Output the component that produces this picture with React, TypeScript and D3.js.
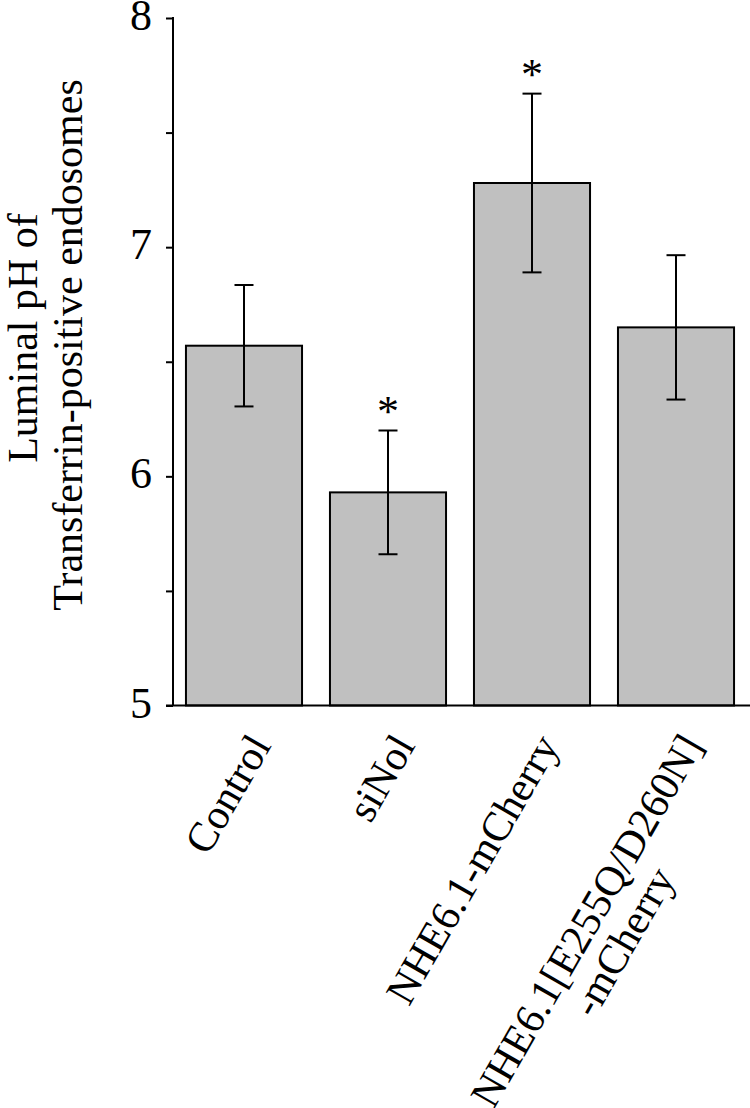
import { useEffect, useRef } from 'react'
import * as d3 from 'd3'

const categories = ['Control', 'siNol', 'NHE6.1-mCherry', 'NHE6.1[E255Q/D260N]\n-mCherry']
const means = [6.57, 5.93, 7.28, 6.65]
const sem = [0.265, 0.27, 0.39, 0.315]
const significant = [false, true, true, false]
const yTicks = [5, 6, 7, 8]
const yMinorTicks = [5.5, 6.5, 7.5]
const yLabelLines = ['Luminal pH of', 'Transferrin-positive endosomes']

const W = 750
const H = 1108
const FONT = '"Liberation Serif", "Times New Roman", Times, serif'

export default function App() {
  const svgRef = useRef<SVGSVGElement>(null)

  useEffect(() => {
    if (!svgRef.current) return
    const svg = d3.select(svgRef.current)
    svg.selectAll('*').remove()

    const axisX = 173
    const yTop = 18
    const yBottom = 705.5

    const y = d3.scaleLinear().domain([5, 8]).range([yBottom, yTop])
    const x = d3
      .scaleBand<string>()
      .domain(categories)
      .range([axisX, 747])
      .paddingInner(0.194)
      .paddingOuter(0.09)

    const data = categories.map((c, i) => ({
      cat: c,
      mean: means[i],
      sem: sem[i],
      sig: significant[i]
    }))

    // bars
    svg.append('g')
      .selectAll('rect')
      .data(data)
      .enter()
      .append('rect')
      .attr('x', d => x(d.cat)!)
      .attr('y', d => y(d.mean))
      .attr('width', x.bandwidth())
      .attr('height', d => yBottom - y(d.mean))
      .attr('fill', '#c0c0c0')
      .attr('stroke', '#000')
      .attr('stroke-width', 2)

    // error bars
    const eb = svg.append('g').attr('stroke', '#000').attr('stroke-width', 2)
    data.forEach(d => {
      const cx = x(d.cat)! + x.bandwidth() / 2
      const hi = y(d.mean + d.sem)
      const lo = y(d.mean - d.sem)
      eb.append('line').attr('x1', cx).attr('x2', cx).attr('y1', hi).attr('y2', lo)
      eb.append('line').attr('x1', cx - 9.5).attr('x2', cx + 9.5).attr('y1', hi).attr('y2', hi)
      eb.append('line').attr('x1', cx - 9.5).attr('x2', cx + 9.5).attr('y1', lo).attr('y2', lo)
      if (d.sig) {
        svg.append('text')
          .attr('x', cx)
          .attr('y', hi - 5)
          .attr('text-anchor', 'middle')
          .attr('font-family', FONT)
          .attr('font-size', 44)
          .text('*')
      }
    })

    // y axis
    const yAxis = svg.append('g').attr('transform', `translate(${axisX},0)`)
    yAxis.call(
      d3.axisLeft(y)
        .tickValues([...yTicks, ...yMinorTicks])
        .tickSize(7)
        .tickFormat(() => '')
    )
    yAxis.select('.domain').remove()
    yAxis.selectAll('.tick line').attr('stroke', '#000').attr('stroke-width', 2)
    yAxis.append('line')
      .attr('x1', 0).attr('x2', 0)
      .attr('y1', yTop - 1).attr('y2', yBottom)
      .attr('stroke', '#000').attr('stroke-width', 2)

    svg.append('g')
      .selectAll('text')
      .data(yTicks)
      .enter()
      .append('text')
      .attr('x', 152)
      .attr('y', d => y(d) + 12)
      .attr('text-anchor', 'end')
      .attr('font-family', FONT)
      .attr('font-size', 44)
      .text(d => d)

    // baseline
    svg.append('line')
      .attr('x1', axisX - 7).attr('x2', W)
      .attr('y1', yBottom).attr('y2', yBottom)
      .attr('stroke', '#000').attr('stroke-width', 2)

    // y label
    const yLab = [
      { text: yLabelLines[0], bx: 37, cy: 338 },
      { text: yLabelLines[1], bx: 82, cy: 345 }
    ]
    yLab.forEach(l => {
      svg.append('text')
        .attr('transform', `translate(${l.bx},${l.cy}) rotate(-90)`)
        .attr('text-anchor', 'middle')
        .attr('font-family', FONT)
        .attr('font-size', 42)
        .text(l.text)
    })

    // x labels
    const xFont = 42
    categories.forEach(c => {
      const cx = x(c)! + x.bandwidth() / 2
      const g = svg.append('g')
        .attr('transform', `translate(${cx + 28},${yBottom + 40}) rotate(-60)`)
      const lines = c.split('\n')
      const first = g.append('text')
        .attr('text-anchor', 'end')
        .attr('font-family', FONT)
        .attr('font-size', xFont)
        .text(lines[0])
      if (lines.length > 1) {
        const w = (first.node() as SVGTextElement).getComputedTextLength()
        lines.slice(1).forEach((ln, i) => {
          g.append('text')
            .attr('x', -w / 2)
            .attr('y', xFont * (i + 1))
            .attr('text-anchor', 'middle')
            .attr('font-family', FONT)
            .attr('font-size', xFont)
            .text(ln)
        })
      }
    })
  }, [])

  return (
    <div style={{ position: 'absolute', left: 0, top: 0 }}>
      <svg ref={svgRef} width={W} height={H} style={{ display: 'block', background: '#fff' }} />
    </div>
  )
}
